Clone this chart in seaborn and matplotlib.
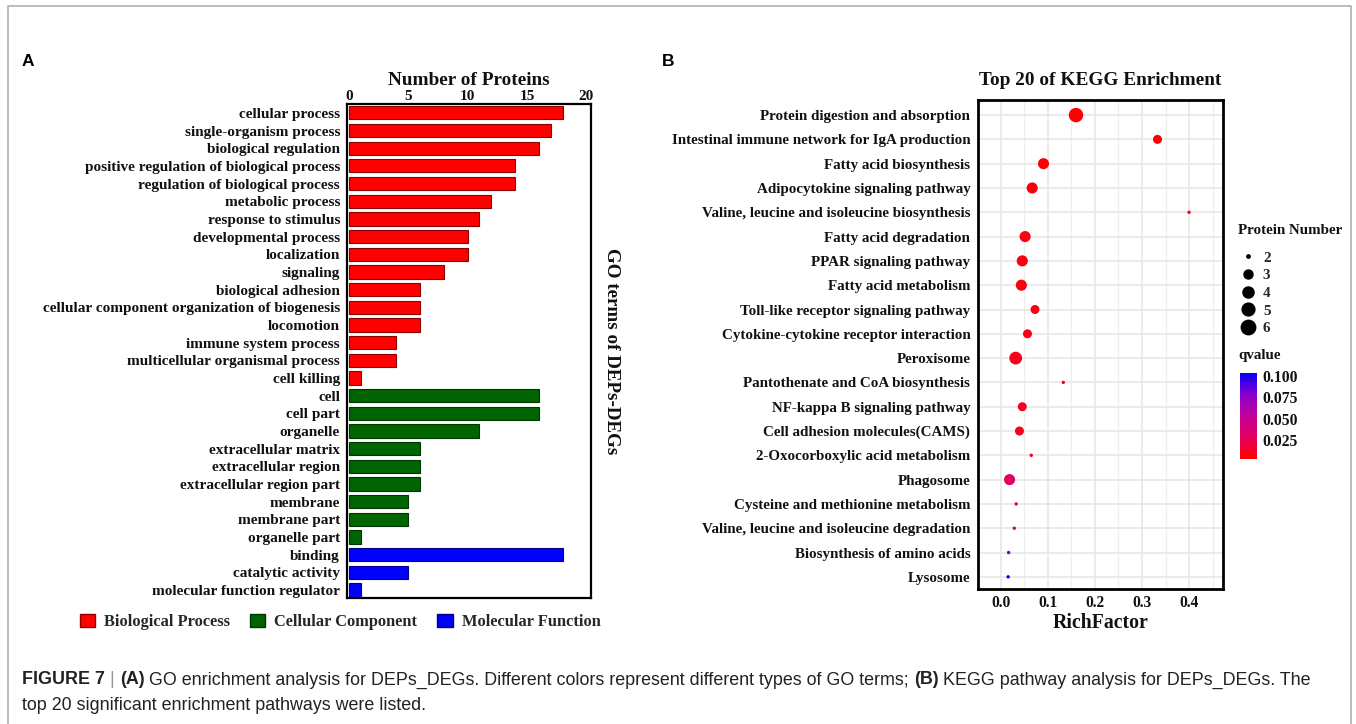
# -*- coding: utf-8 -*-
"""
plot.py - GO enrichment bars (A) and KEGG enrichment dot plot (B) for DEPs_DEGs.
"""
import matplotlib
matplotlib.use("Agg")
import numpy as np
import pandas as pd
import matplotlib.pyplot as plt
import seaborn as sns
from matplotlib.colors import LinearSegmentedColormap, Normalize, to_rgb
from matplotlib.lines import Line2D
from matplotlib.patches import Patch
from matplotlib.cm import ScalarMappable
from matplotlib.ticker import FixedLocator

# ---------------- data: panel A (GO terms) ----------------
bp_terms = ["cellular process", "single-organism process", "biological regulation",
            "positive regulation of biological process", "regulation of biological process",
            "metabolic process", "response to stimulus", "developmental process",
            "localization", "signaling", "biological adhesion",
            "cellular component organization of biogenesis", "locomotion",
            "immune system process", "multicellular organismal process", "cell killing"]
bp_counts = [18, 17, 16, 14, 14, 12, 11, 10, 10, 8, 6, 6, 6, 4, 4, 1]

cc_terms = ["cell", "cell part", "organelle", "extracellular matrix", "extracellular region",
            "extracellular region part", "membrane", "membrane part", "organelle part"]
cc_counts = [16, 16, 11, 6, 6, 6, 5, 5, 1]

mf_terms = ["binding", "catalytic activity", "molecular function regulator"]
mf_counts = [18, 5, 1]

go_groups = ["Biological Process", "Cellular Component", "Molecular Function"]
go_colors = {"Biological Process": "#FF0000",
             "Cellular Component": "#006400",
             "Molecular Function": "#0000FF"}

# ---------------- data: panel B (KEGG) ----------------
kegg_terms = ["Protein digestion and absorption",
              "Intestinal immune network for IgA production",
              "Fatty acid biosynthesis",
              "Adipocytokine signaling pathway",
              "Valine, leucine and isoleucine biosynthesis",
              "Fatty acid degradation",
              "PPAR signaling pathway",
              "Fatty acid metabolism",
              "Toll-like receptor signaling pathway",
              "Cytokine-cytokine receptor interaction",
              "Peroxisome",
              "Pantothenate and CoA biosynthesis",
              "NF-kappa B signaling pathway",
              "Cell adhesion molecules(CAMS)",
              "2-Oxocorboxylic acid metabolism",
              "Phagosome",
              "Cysteine and methionine metabolism",
              "Valine, leucine and isoleucine degradation",
              "Biosynthesis of amino acids",
              "Lysosome"]
rich_factor = [0.160, 0.333, 0.091, 0.067, 0.400, 0.052, 0.046, 0.044, 0.073, 0.057,
               0.032, 0.133, 0.046, 0.040, 0.065, 0.019, 0.033, 0.029, 0.017, 0.016]
protein_number = [6, 3, 4, 4, 2, 4, 4, 4, 3, 3, 5, 2, 3, 3, 2, 4, 2, 2, 2, 2]
qvalue = [0.002, 0.004, 0.004, 0.005, 0.006, 0.006, 0.006, 0.006, 0.008, 0.008,
          0.009, 0.010, 0.010, 0.010, 0.012, 0.030, 0.042, 0.046, 0.085, 0.104]

size_levels = [2, 3, 4, 5, 6]
size_map = {2: 6, 3: 42, 4: 64, 5: 85, 6: 108}
q_ticks = [0.025, 0.050, 0.075, 0.100]

W, H = 1356, 724
SERIF = "Liberation Serif"
SANS = "Liberation Sans"
TXT = "#111111"


def fx(px):
    return px / W


def fy(py):
    return 1 - py / H


def darker(col, f=0.55):
    r, g, b = to_rgb(col)
    return (r * f, g * f, b * f)


def put_runs(fig, x_px, y_px, runs, size):
    rend = fig.canvas.get_renderer()
    x = x_px
    for txt, weight, col in runs:
        t = fig.text(fx(x), fy(y_px), txt, fontsize=size, fontweight=weight,
                     color=col, family=SANS, ha="left", va="center")
        x += t.get_window_extent(renderer=rend).width * W / fig.bbox.width


sns.set_style("white")
plt.rcParams["font.family"] = [SERIF, "DejaVu Serif"]

fig = plt.figure(figsize=(W / 100, H / 100), dpi=100)

# ---------------- panel A ----------------
go_df = pd.concat([
    pd.DataFrame({"term": bp_terms, "count": bp_counts, "group": go_groups[0]}),
    pd.DataFrame({"term": cc_terms, "count": cc_counts, "group": go_groups[1]}),
    pd.DataFrame({"term": mf_terms, "count": mf_counts, "group": go_groups[2]}),
], ignore_index=True)

axA = fig.add_axes([fx(347), fy(598), fx(591) - fx(347), fy(104) - fy(598)])
sns.barplot(data=go_df, x="count", y="term", hue="group", palette=go_colors,
            dodge=False, width=0.75, legend=False, ax=axA, saturation=1)
for p in axA.patches:
    p.set_edgecolor(darker(p.get_facecolor()))
    p.set_linewidth(0.8)

axA.set_xlim(-0.17, 20.4)
axA.set_ylim(len(go_df) - 0.55, -0.5)
axA.xaxis.tick_top()
axA.xaxis.set_label_position("top")
axA.set_xticks([0, 5, 10, 15, 20])
axA.set_xlabel("Number of Proteins", fontsize=13.9, fontweight="bold", color=TXT, labelpad=3)
axA.set_ylabel("")
axA.tick_params(axis="x", length=0, pad=1, labelsize=11, labelcolor=TXT)
axA.tick_params(axis="y", length=2, width=0.6, color="#555555", pad=3,
                labelsize=11, labelcolor=TXT)
for lab in axA.get_xticklabels() + axA.get_yticklabels():
    lab.set_fontweight("bold")
for s in axA.spines.values():
    s.set_visible(True)
    s.set_linewidth(1.6)
    s.set_color("black")
axA.text(1.086, 0.5, "GO terms of DEPs-DEGs", transform=axA.transAxes, rotation=270,
         ha="center", va="center", fontsize=13.7, fontweight="bold", color=TXT)

handles = [Patch(facecolor=go_colors[g], edgecolor=darker(go_colors[g]), label=g) for g in go_groups]
fig.legend(handles=handles, loc="center", bbox_to_anchor=(fx(340), fy(622)), ncol=3,
           frameon=False, handlelength=0.95, handleheight=0.8, handletextpad=0.55,
           columnspacing=1.2, prop={"family": SERIF, "weight": "bold", "size": 11.8})

# ---------------- panel B ----------------
kegg_df = pd.DataFrame({"term": kegg_terms, "RichFactor": rich_factor,
                        "Protein Number": protein_number, "qvalue": qvalue})
q_min, q_max = min(qvalue), max(qvalue)
cmap = LinearSegmentedColormap.from_list(
    "rb", ["#FF0000", "#E6005E", "#C2009A", "#8A00CC", "#0000FF"])

axB = fig.add_axes([fx(978), fy(589), fx(1223) - fx(978), fy(100) - fy(589)])
axB.set_axisbelow(True)
sns.scatterplot(data=kegg_df, x="RichFactor", y="term", hue="qvalue", palette=cmap,
                hue_norm=(q_min, q_max), size="Protein Number", sizes=size_map,
                legend=False, linewidth=0, ax=axB, zorder=3)
axB.set_xlim(-0.048, 0.472)
axB.set_ylim(len(kegg_terms) - 0.5, -0.62)
axB.set_xticks([0.0, 0.1, 0.2, 0.3, 0.4])
axB.set_xticklabels(["0.0", "0.1", "0.2", "0.3", "0.4"])
axB.xaxis.set_minor_locator(FixedLocator([0.05, 0.15, 0.25, 0.35, 0.45]))
axB.grid(True, which="major", color="#E6E6E6", linewidth=1.1)
axB.grid(True, which="minor", axis="x", color="#EFEFEF", linewidth=0.9)
axB.set_xlabel("RichFactor", fontsize=14.2, fontweight="bold", color=TXT, labelpad=1)
axB.set_ylabel("")
axB.set_title("Top 20 of KEGG Enrichment", fontsize=13.9, fontweight="bold", color=TXT, pad=11)
axB.tick_params(axis="y", which="major", length=2.5, width=0.7, color="#444444",
                labelsize=10.8, labelcolor=TXT, pad=3)
axB.tick_params(axis="x", which="major", length=2.5, width=0.7, color="#444444",
                labelsize=11.2, labelcolor=TXT, pad=2)
axB.tick_params(axis="x", which="minor", length=0)
for lab in axB.get_xticklabels() + axB.get_yticklabels():
    lab.set_fontweight("bold")
for s in axB.spines.values():
    s.set_visible(True)
    s.set_linewidth(2.0)
    s.set_color("black")

# size legend
fig.text(fx(1238), fy(231), "Protein Number", fontsize=10.8, fontweight="bold", color=TXT,
         ha="left", va="center")
size_handles = [Line2D([], [], linestyle="none", marker="o", color="black",
                       markersize=np.sqrt(size_map[k]), label=str(k)) for k in size_levels]
fig.legend(handles=size_handles, loc="upper left", bbox_to_anchor=(fx(1240), fy(251)),
           frameon=False, handlelength=1.0, handletextpad=0.5, labelspacing=0.26,
           borderpad=0, borderaxespad=0,
           prop={"family": SERIF, "weight": "bold", "size": 11})

# qvalue colour bar
fig.text(fx(1238), fy(356), "qvalue", fontsize=10.8, fontweight="bold", color=TXT,
         ha="left", va="center")
cax = fig.add_axes([fx(1240), fy(459), fx(17), fy(373) - fy(459)])
sm = ScalarMappable(norm=Normalize(q_min, q_max), cmap=cmap)
cb = fig.colorbar(sm, cax=cax, ticks=q_ticks)
cb.outline.set_visible(False)
cb.ax.set_yticklabels([f"{t:.3f}" for t in q_ticks])
cb.ax.tick_params(length=3, width=0.8, color="white", direction="in", labelsize=11.3,
                  labelcolor=TXT, pad=4)
for lab in cb.ax.get_yticklabels():
    lab.set_fontweight("bold")

# panel letters
fig.text(fx(22), fy(62), "A", family=SANS, fontsize=12.5, fontweight="bold", color="black",
         ha="left", va="center")
fig.text(fx(662), fy(62), "B", family=SANS, fontsize=12.5, fontweight="bold", color="black",
         ha="left", va="center")

# frame around the figure area
fig.add_artist(Line2D([fx(8), fx(8), fx(1351), fx(1351)], [0, fy(6), fy(6), 0],
                      transform=fig.transFigure, color="#B0B0B0", linewidth=1.2))

# caption
fig.canvas.draw()
cap_col = "#222222"
put_runs(fig, 22, 680, [
    ("FIGURE 7", "bold", cap_col), (" | ", "normal", "#999999"), ("(A)", "bold", cap_col),
    (" GO enrichment analysis for DEPs_DEGs. Different colors represent different types of GO terms; ",
     "normal", cap_col),
    ("(B)", "bold", cap_col), (" KEGG pathway analysis for DEPs_DEGs. The", "normal", cap_col)], 12.9)
put_runs(fig, 22, 706, [("top 20 significant enrichment pathways were listed.", "normal", cap_col)], 12.9)

fig.savefig("out.png", dpi=100)
